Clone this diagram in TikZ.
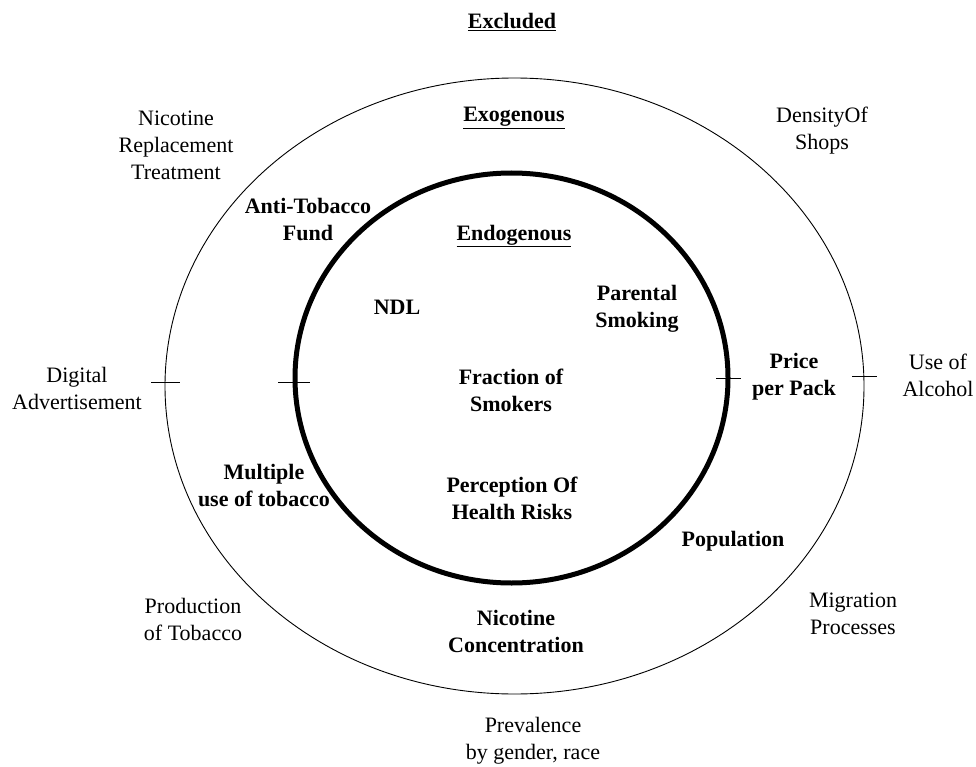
\documentclass[tikz,border=0pt]{standalone}
\usepackage{fontspec}
\setmainfont{Liberation Serif}
\begin{document}
\begin{tikzpicture}[x=1pt,y=-1pt,
  lbl/.style={align=center,inner sep=0pt,font=\fontsize{22}{27}\selectfont},
  blbl/.style={lbl,font=\fontsize{22}{27}\selectfont\bfseries},
  tick/.style={line width=1pt}]
\useasboundingbox (0,0) rectangle (976,767);
% circles
\draw[line width=0.9pt] (514.5,386) ellipse [x radius=349.5, y radius=308];
\draw[line width=5pt] (511.5,378) ellipse [x radius=216.5, y radius=205];
% ticks
\coordinate (t1a) at (151,382); \coordinate (t1b) at (180,382);
\coordinate (t2a) at (278,382); \coordinate (t2b) at (310,382);
\coordinate (t3a) at (716,378); \coordinate (t3b) at (741,378);
\coordinate (t4a) at (852,376); \coordinate (t4b) at (877,376);
\draw[tick] (t1a) -- (t1b);
\draw[tick] (t2a) -- (t2b);
\draw[tick] (t3a) -- (t3b);
\draw[tick] (t4a) -- (t4b);
% headings
\node[blbl] (excl) at (512,22) {\underline{Excluded}};
\node[blbl] (exo) at (514,118) {\underline{Exogenous}};
\node[blbl] (endo) at (514,236) {\underline{Endogenous}};
% excluded
\node[lbl] (nrt) at (176,145) {Nicotine\\Replacement\\Treatment};
\node[lbl] (dos) at (822,131) {DensityOf\\Shops};
\node[lbl] (dig) at (77,388) {Digital\\Advertisement};
\node[lbl] (alc) at (938,375) {Use of\\Alcohol};
\node[lbl] (prod) at (193,619) {Production\\of Tobacco};
\node[lbl] (mig) at (853,614) {Migration\\Processes};
\node[lbl] (prev) at (533,741) {Prevalence\\by gender, race};
% exogenous
\node[blbl] (atf) at (308,220) {Anti-Tobacco\\Fund};
\node[blbl] (ppp) at (794,377) {Price\\per Pack};
\node[blbl] (mult) at (264,485) {Multiple\\use of tobacco};
\node[blbl] (pop) at (733,541) {Population};
\node[blbl] (nic) at (516,631) {Nicotine\\Concentration};
% endogenous
\node[blbl] (ndl) at (397,307) {NDL};
\node[blbl] (par) at (637,309) {Parental\\Smoking};
\node[blbl] (frac) at (511,390) {Fraction of\\Smokers};
\node[blbl] (perc) at (512,498) {Perception Of\\Health Risks};
\end{tikzpicture}
\end{document}
